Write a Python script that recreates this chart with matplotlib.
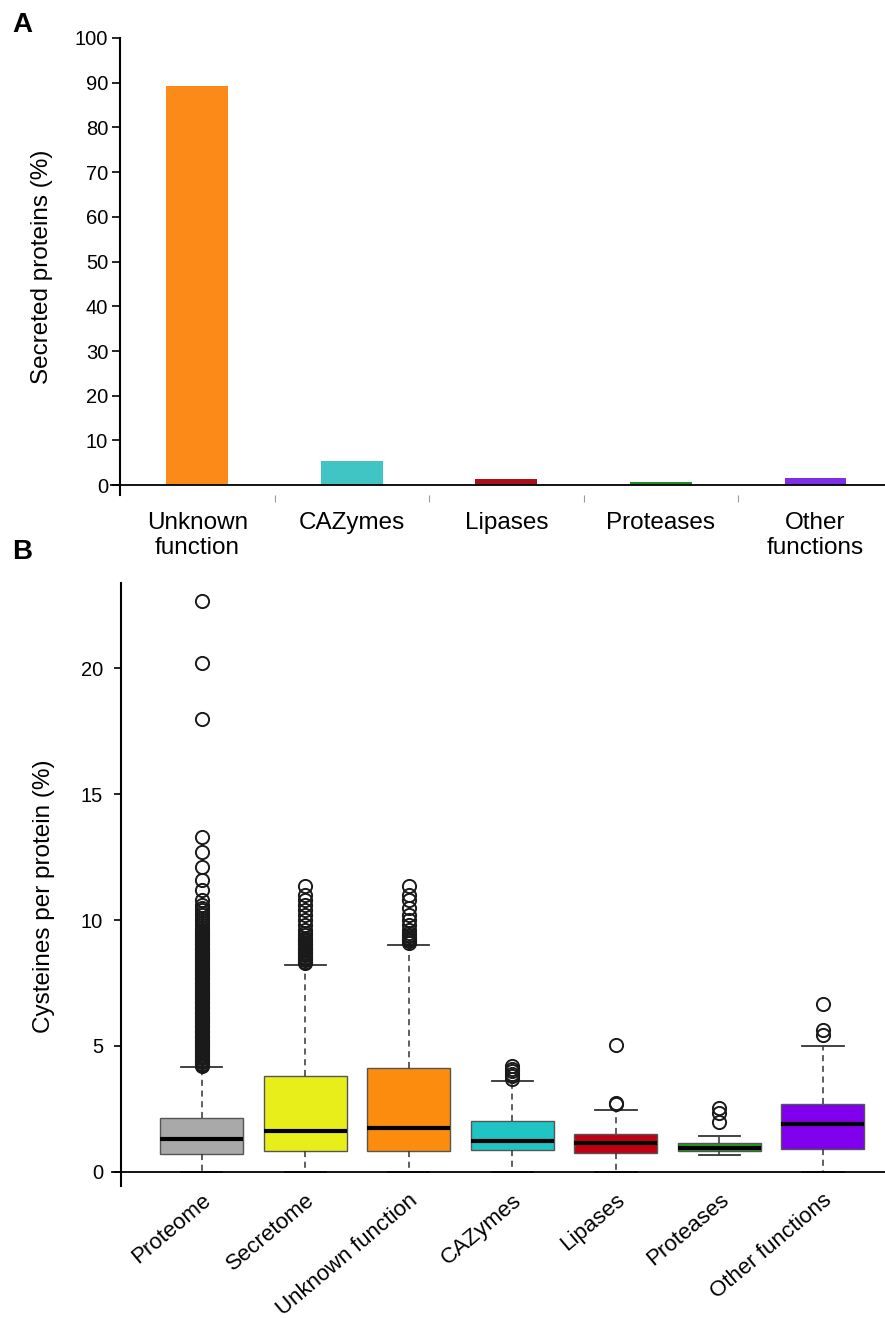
import matplotlib
matplotlib.use('Agg')
import matplotlib.pyplot as plt

plt.rcParams['font.family'] = ['Liberation Sans', 'DejaVu Sans']

# panel A: share of secreted proteins per functional class
func_labels = ['Unknown\nfunction', 'CAZymes', 'Lipases', 'Proteases', 'Other\nfunctions']
func_share = [89.2, 5.3, 1.4, 0.7, 1.5]
func_colors = ['#fb8a19', '#40c4c4', '#a8101a', '#1f8a2a', '#7d2ee6']

# panel B: cysteine content box plots (summary stats)
groups = ['Proteome', 'Secretome', 'Unknown function', 'CAZymes', 'Lipases',
          'Proteases', 'Other functions']
box_colors = ['#a9a9a9', '#e8ee1a', '#fb8c0e', '#20c4c4', '#c00010', '#22a022', '#8000ee']
whis_low = [0.0, 0.0, 0.0, 0.0, 0.0, 0.66, 0.0]
q1 = [0.70, 0.82, 0.81, 0.87, 0.75, 0.81, 0.89]
med = [1.30, 1.60, 1.73, 1.22, 1.15, 0.95, 1.88]
q3 = [2.12, 3.80, 4.13, 2.01, 1.51, 1.14, 2.71]
whis_high = [4.17, 8.23, 9.0, 3.61, 2.46, 1.43, 4.99]

prot_out = [4.2, 4.25, 4.3, 4.35, 4.4, 4.45, 4.5, 4.55, 4.6, 4.65, 4.7, 4.75, 4.8,
            4.85, 4.9, 4.95, 5.0, 5.05, 5.1, 5.15, 5.2, 5.25, 5.3, 5.35, 5.4, 5.45,
            5.5, 5.55, 5.6, 5.65, 5.7, 5.75, 5.8, 5.85, 5.9, 5.95, 6.0, 6.05, 6.1,
            6.15, 6.2, 6.25, 6.3, 6.35, 6.4, 6.45, 6.5, 6.55, 6.6, 6.65, 6.7, 6.75,
            6.8, 6.85, 6.9, 6.95, 7.0, 7.05, 7.1, 7.15, 7.2, 7.25, 7.3, 7.35, 7.4,
            7.45, 7.5, 7.55, 7.6, 7.65, 7.7, 7.75, 7.8, 7.85, 7.9, 7.95, 8.0, 8.05,
            8.1, 8.15, 8.2, 8.25, 8.3, 8.35, 8.4, 8.45, 8.5, 8.55, 8.6, 8.65, 8.7,
            8.75, 8.8, 8.85, 8.9, 8.95, 9.0, 9.05, 9.1, 9.15, 9.2, 9.25, 9.3, 9.35,
            9.4, 9.45, 9.5, 9.55, 9.6, 9.7, 9.8, 9.9, 10.0, 10.1, 10.2, 10.3, 10.4,
            10.5, 10.6, 10.8, 11.2, 11.6, 12.1, 12.7, 13.3, 18.0, 20.2, 22.7]
secr_out = [8.3, 8.35, 8.4, 8.45, 8.5, 8.55, 8.6, 8.65, 8.7, 8.75, 8.8, 8.85, 8.9,
            8.95, 9.0, 9.05, 9.1, 9.15, 9.2, 9.25, 9.3, 9.4, 9.5, 9.6, 9.8, 10.0,
            10.2, 10.4, 10.6, 10.8, 11.0, 11.35]
unkn_out = [9.1, 9.15, 9.2, 9.25, 9.3, 9.35, 9.4, 9.5, 9.6, 9.8, 10.0, 10.2, 10.5,
            10.8, 11.0, 11.35]
caz_out = [3.7, 3.8, 3.9, 4.0, 4.1, 4.2]
lip_out = [2.7, 2.75, 5.03]
prot_ase_out = [1.98, 2.35, 2.55]
other_out = [5.45, 5.65, 6.68]
fliers = [prot_out, secr_out, unkn_out, caz_out, lip_out, prot_ase_out, other_out]

fig = plt.figure(figsize=(8.85, 13.18), dpi=100)

# ---- panel A ----
axA = fig.add_axes([0.1356, 0.6244, 1 - 0.1356, 0.9712 - 0.6244])
xs = list(range(len(func_labels)))
axA.bar(xs, func_share, width=0.4, color=func_colors)
axA.set_xlim(-0.5, 4.45)
axA.set_ylim(-2.2, 100)
axA.set_yticks(range(0, 101, 10))
axA.axhline(0, color='black', lw=1.3, xmin=-0.012, clip_on=False)
axA.set_xticks(xs)
axA.set_xticklabels(func_labels, fontsize=17.5)
axA.tick_params(axis='x', length=0, pad=12)
axA.set_xticks([0.5, 1.5, 2.5, 3.5], minor=True)
axA.tick_params(axis='x', which='minor', length=5, color='#999999', width=0.8)
axA.tick_params(axis='y', length=6, width=1.2, labelsize=14.5, pad=2.5)
for s in ['top', 'right', 'bottom']:
    axA.spines[s].set_visible(False)
axA.spines['left'].set_linewidth(1.5)
axA.set_ylabel('Secreted proteins (%)', fontsize=17.5)
axA.yaxis.set_label_coords(-0.088, 0.5)

# ---- panel B ----
axB = fig.add_axes([0.1367, 0.1005, 1 - 0.1367, 0.5577 - 0.1005])
stats = []
for i, name in enumerate(groups):
    stats.append({'label': name, 'whislo': whis_low[i], 'q1': q1[i], 'med': med[i],
                  'q3': q3[i], 'whishi': whis_high[i], 'fliers': fliers[i]})
pos = list(range(len(groups)))
bp = axB.bxp(stats, positions=pos, widths=0.8, capwidths=0.4, patch_artist=True,
             boxprops=dict(edgecolor='#555555', lw=1),
             medianprops=dict(color='black', lw=3),
             whiskerprops=dict(color='#333333', lw=1.1, linestyle=(0, (4, 3))),
             capprops=dict(color='#333333', lw=1.3),
             flierprops=dict(marker='o', markerfacecolor='none', markeredgecolor='#1a1a1a',
                             markersize=9.5, markeredgewidth=1.4))
for patch, c in zip(bp['boxes'], box_colors):
    patch.set_facecolor(c)
axB.set_xlim(-0.78, 6.6)
axB.set_ylim(-0.55, 23.4)
axB.axhline(0, color='black', lw=1.3, xmin=-0.012, clip_on=False, zorder=5)
axB.set_yticks([0, 5, 10, 15, 20])
axB.tick_params(axis='y', length=5, width=1.2, labelsize=14.5, pad=8)
axB.set_xticks(pos)
axB.set_xticklabels(groups, rotation=40, ha='right', rotation_mode='anchor', fontsize=16)
axB.tick_params(axis='x', length=0, pad=3)
for s in ['top', 'right', 'bottom']:
    axB.spines[s].set_visible(False)
axB.spines['left'].set_linewidth(1.5)
axB.set_ylabel('Cysteines per protein (%)', fontsize=17.5)
axB.yaxis.set_label_coords(-0.086, 0.48)

fig.text(0.014, 0.991, 'A', fontsize=20, fontweight='bold', va='top')
fig.text(0.014, 0.591, 'B', fontsize=20, fontweight='bold', va='top')

fig.savefig('out.png', dpi=100)
